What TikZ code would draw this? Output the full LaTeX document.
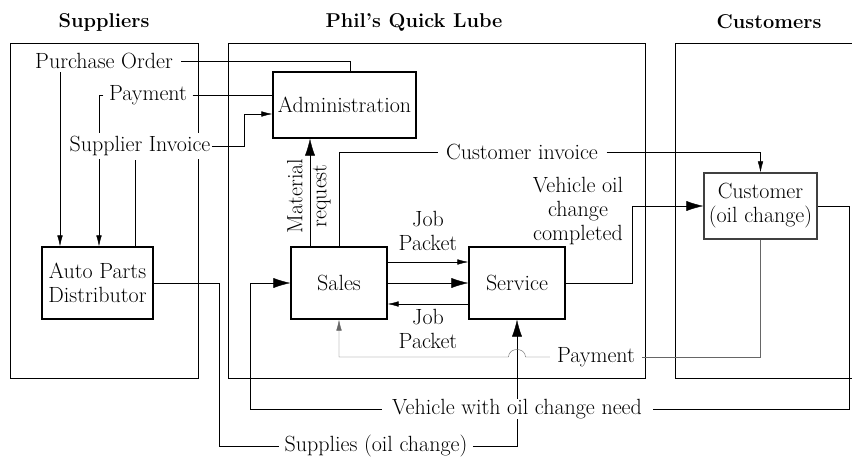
\documentclass[tikz,border=0pt]{standalone}
\usepackage{fontspec}
\usetikzlibrary{arrows.meta,backgrounds}
\begin{document}
\begin{tikzpicture}[x=1pt,y=-1pt,line width=1.2pt,
  every node/.style={font=\fontsize{22}{24}\selectfont},
  title/.style={font=\fontsize{20}{24}\selectfont\bfseries, inner sep=0pt},
  box/.style={draw, fill=white, inner sep=0pt, align=center},
  lbl/.style={fill=white, inner xsep=6pt, inner ysep=2pt, align=center},
  plain/.style={inner sep=0pt, align=center},
  sarr/.style={-{Latex[length=11pt,width=5.5pt]}},
  barr/.style={-{Latex[length=17pt,width=10pt]}},
  paid/.style={draw=black!60}]
\useasboundingbox (0,0) rectangle (852,456);

% column titles
\node[title] (tsup) at (104,22) {Suppliers};
\node[title] (tphil) at (414,22) {Phil’s Quick Lube};
\node[title] (tcus) at (769,22) {Customers};

% process boxes
\node[box, minimum width=143pt, minimum height=66pt] (adm) at (344.5,105) {Administration};
\node[box, minimum width=111pt, minimum height=72pt] (apd) at (97.5,283) {Auto Parts\\Distributor};
\node[box, minimum width=96pt, minimum height=72pt] (sales) at (339,283) {Sales};
\node[box, minimum width=96pt, minimum height=72pt] (service) at (517,283) {Service};
\node[box, draw=black!75, minimum width=113pt, minimum height=66pt] (cust) at (760.5,206) {Customer\\(oil change)};

% flow labels
\node[lbl, inner xsep=8pt, inner ysep=3pt] (po) at (104,61) {Purchase Order};
\node[lbl, inner xsep=5pt] (pay1) at (148,95) {Payment};
\node[lbl, inner xsep=1pt, inner ysep=3.5pt] (si) at (140,146) {Supplier Invoice};
\node[plain, rotate=90] (mr) at (309,196) {Material\\request};
\node[lbl, inner xsep=8pt] (ci) at (522,152) {Customer invoice};
\node[plain] (voc) at (578,211) {Vehicle oil\\change\\completed};
\node[plain] (jp1) at (428,231) {Job\\Packet};
\node[plain] (jp2) at (428,329) {Job\\Packet};
\node[lbl, inner xsep=6.5pt] (pay2) at (596,357) {Payment};
\node[lbl, inner xsep=10pt, inner ysep=0pt] (veh) at (517,409) {Vehicle with oil change need};
\node[lbl, inner xsep=5pt, inner ysep=1pt] (sup) at (376,446) {Supplies (oil change)};

\begin{pgfonlayer}{background}
  \fill[white] (0,0) rectangle (852,456);
  % organisation frames
  \draw (10,43) rectangle (198,378);
  \draw (228,43) rectangle (645.5,378);
  \draw (852,43) -| (675,378) -- (852,378);

  % supplier side
  \draw (po.east) -| ([xshift=5.5pt]adm.north);
  \draw[sarr] (po.south -| 60,0) -- (apd.north -| 60,0);
  \draw (pay1.east) -- (pay1.east -| adm.west);
  \draw[sarr] (pay1.west) -| (apd.north -| 99,0);
  \draw (apd.north -| 135,0) -- (si.south -| 135,0);
  \draw[sarr] (si.east) -- (si.east -| 244,0) |- ([yshift=-9pt]adm.west);
  \draw (apd.east) -- ++(66,0) |- (sup.west);
  \draw[barr] (sup.east) -| (service.south);

  % inside the shop
  \draw[barr] (sales.north -| 310,0) -- (adm.south -| 310,0);
  \draw[sarr] ([yshift=21pt]sales.east) -- ([yshift=21pt]service.west);
  \draw[barr] (sales.east) -- (service.west);
  \draw[sarr] ([yshift=-21pt]service.west) -- ([yshift=-21pt]sales.east);

  % customer side
  \draw (sales.north -| 339,0) |- (ci.west);
  \draw[sarr] (ci.east) -| (cust.north);
  \draw[barr] (service.east) -- ++(67,0) |- (cust.west);
  \draw[paid] (cust.south) |- (pay2.east);
  \draw[paid, sarr] (pay2.west) -- (525.5,357)
      .. controls (525.5,347) and (508.5,347) .. (508.5,357) -| (sales.south);
  \draw (cust.east) -- ++(32,0) |- (veh.east);
  \draw[barr] (veh.west) -| ([xshift=-40pt]sales.west) -- (sales.west);
\end{pgfonlayer}
\end{tikzpicture}
\end{document}
